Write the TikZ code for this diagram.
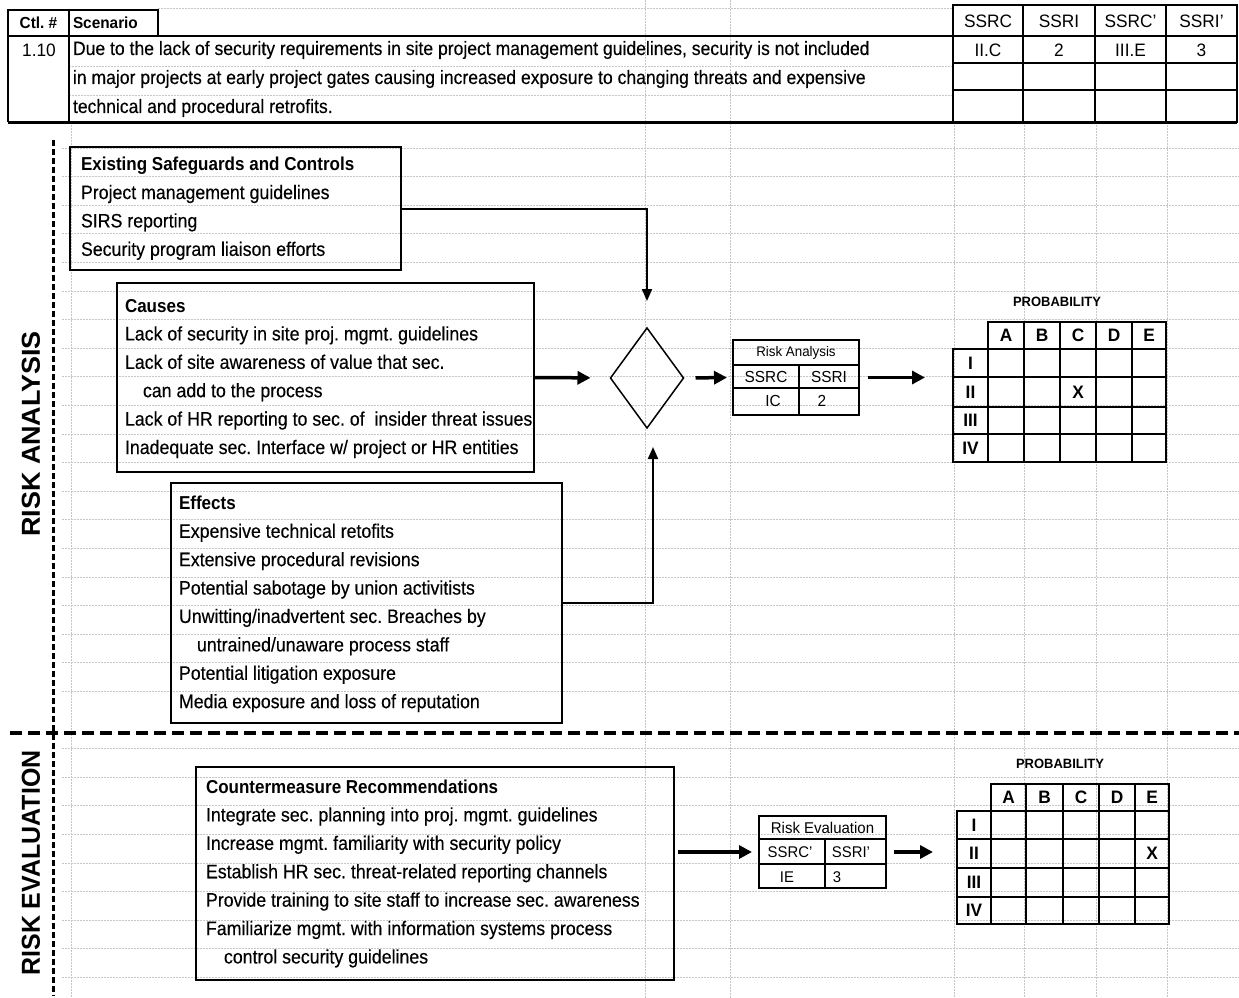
\documentclass[tikz,border=0pt]{standalone}
\usepackage{fontspec}
\usepackage{graphicx}
\setmainfont{Liberation Sans}[FakeStretch=0.96]
\newfontfamily\bodyfont{Liberation Sans}[FakeStretch=0.91,UprightFeatures={FakeBold=0.3}]
\usetikzlibrary{arrows.meta,shapes.geometric}

\newcommand\boxtitle[1]{{\fontsize{18.7}{28.4}\selectfont\bfseries #1}}
\newcommand\indentline{\hspace*{18pt}}

\begin{document}
\frenchspacing
\begin{tikzpicture}[x=1pt,y=-1pt,
  every node/.style={inner sep=0pt,outer sep=0pt},
  faint/.style={gray!45,line width=0.7pt,dash pattern=on 1.6pt off 1.4pt},
  rule/.style={line width=1.6pt},
  listframe/.style={draw,line width=1.6pt,anchor=north west},
  listtext/.style={anchor=west,align=left,
    font=\bodyfont\fontsize{19.5}{28.4}\selectfont},
  bigarrow/.style={line width=3.5pt,-{Triangle[length=13pt,width=13pt]}},
  linkarrow/.style={line width=2pt,-{Triangle[length=12pt,width=10pt]}},
  hdr/.style={font=\fontsize{16}{16}\selectfont\bfseries},
  scen/.style={anchor=west,font=\bodyfont\fontsize{19.3}{19.3}\selectfont},
  code/.style={font=\fontsize{18}{18}\selectfont},
  gridlab/.style={font=\fontsize{18}{18}\selectfont\bfseries},
  problab/.style={font=\fontsize{13.5}{13.5}\selectfont\bfseries},
  gridline/.style={line width=1.5pt},
  smallbox/.style={draw,line width=1.5pt},
  section/.style={rotate=90,font=\fontsize{26}{26}\selectfont\bfseries}
]
\useasboundingbox (0,0) rectangle (1239,998);

% ---------- faint background form grid ----------
\foreach \yy in {148,176.6,...,720} \draw[faint] (62,\yy) -- (1239,\yy);
\foreach \yy in {748.6,777.2,...,980} \draw[faint] (62,\yy) -- (1239,\yy);
\foreach \yy in {66,95} \draw[faint] (69,\yy) -- (953,\yy);
\draw[faint] (158,8) -- (953,8);
\foreach \xx in {645,730} \draw[faint] (\xx,0) -- (\xx,998);
\foreach \xx in {71,954,1024,1096,1167} \draw[faint] (\xx,122) -- (\xx,998);

% ---------- scenario header ----------
\draw[rule] (8,122) -- (8,10) -- (158,10) -- (158,36);
\draw[rule] (69,10) -- (69,122);
\draw[line width=2pt] (8,36) -- (1237,36);
\draw[line width=3pt] (8,122) -- (1237,122);
\draw[line width=1.8pt] (953,5) rectangle (1237,122);
\foreach \xx in {1023,1095,1166} \draw[line width=1.8pt] (\xx,5) -- (\xx,122);
\foreach \yy in {63,90} \draw[line width=1.8pt] (953,\yy) -- (1237,\yy);

\node[hdr] (ctlhead) at (38.5,23) {Ctl. \#};
\node[hdr,anchor=west] (scenhead) at (73,23) {Scenario};
\node[code] (ctlnum) at (39,50) {1.10};
\node[scen] (scen1) at (73,50) {Due to the lack of security requirements in site project management guidelines, security is not included};
\node[scen] (scen2) at (73,79) {in major projects at early project gates causing increased exposure to changing threats and expensive};
\node[scen] (scen3) at (73,108) {technical and procedural retrofits.};

\node[code] (h1) at (988,21) {SSRC};
\node[code] (h2) at (1059,21) {SSRI};
\node[code] (h3) at (1130.5,21) {SSRC'};
\node[code] (h4) at (1201.5,21) {SSRI'};
\node[code] (v1) at (988,50) {II.C};
\node[code] (v2) at (1059,50) {2};
\node[code] (v3) at (1130.5,50) {III.E};
\node[code] (v4) at (1201.5,50) {3};

% ---------- section markers ----------
\draw[line width=3pt,dash pattern=on 6pt off 3pt] (53,140) -- (53,996);
\draw[line width=4pt,dash pattern=on 12pt off 6pt] (10,733) -- (1239,733);
\node[section] (ranalysis) at (31,434) {\scalebox{1.08}[1]{RISK ANALYSIS}};
\node[section] (revaluation) at (31,863) {RISK EVALUATION};

% ---------- risk analysis ----------
\node[listframe,minimum width=331pt,minimum height=123pt] (safe) at (70,147) {};
\node[listtext] (safetext) at ([xshift=11pt]safe.west)
  {\boxtitle{Existing Safeguards and Controls}\\
   Project management guidelines\\
   SIRS reporting\\
   Security program liaison efforts};

\node[listframe,minimum width=417pt,minimum height=189pt] (causes) at (117,283) {};
\node[listtext] (causestext) at ([xshift=8pt,yshift=-1pt]causes.west)
  {\boxtitle{Causes}\\
   Lack of security in site proj. mgmt. guidelines\\
   Lack of site awareness of value that sec.\\
   \indentline can add to the process\\
   Lack of HR reporting to sec. of\ \ insider threat issues\\
   Inadequate sec. Interface w/ project or HR entities};

\node[listframe,minimum width=391pt,minimum height=240pt] (effects) at (171,483) {};
\node[listtext] (effectstext) at ([xshift=8pt,yshift=-1pt]effects.west)
  {\boxtitle{Effects}\\
   Expensive technical retofits\\
   Extensive procedural revisions\\
   Potential sabotage by union activitists\\
   Unwitting/inadvertent sec. Breaches by\\
   \indentline untrained/unaware process staff\\
   Potential litigation exposure\\
   Media exposure and loss of reputation};

\node[draw,diamond,line width=1.5pt,minimum width=73pt,minimum height=100pt] (decide) at (647,378) {};

\node[smallbox,minimum width=126pt,minimum height=75pt] (ra) at (796,377.5) {};
\draw[line width=1.3pt] (733,365) -- (859,365) (733,388) -- (859,388) (799,365) -- (799,415);
\node[font=\fontsize{13.9}{13.9}\selectfont] (ratitle) at (796,353) {Risk Analysis};
\node[font=\fontsize{16}{16}\selectfont] (rah1) at (766,377) {SSRC};
\node[font=\fontsize{16}{16}\selectfont] (rah2) at (829,377) {SSRI};
\node[font=\fontsize{16}{16}\selectfont] (rav1) at (773,401) {IC};
\node[font=\fontsize{16}{16}\selectfont] (rav2) at (822,401) {2};

% probability matrix (analysis)
\node[problab] (prob1) at (1057,302) {PROBABILITY};
\coordinate (g1) at (953,378);
\draw[gridline] (988,322) rectangle (1166,462);
\draw[gridline] (953,349) rectangle (988,462);
\foreach \yy in {377,407,434} \draw[gridline] (953,\yy) -- (1166,\yy);
\draw[gridline] (988,349) -- (1166,349);
\foreach \xx in {1024,1060,1096,1132} \draw[gridline] (\xx,322) -- (\xx,462);
\foreach \l/\xx in {A/1006,B/1042,C/1078,D/1114,E/1149}
  \node[gridlab] (g1col\l) at (\xx,335.5) {\l};
\foreach \l/\yy in {I/363,II/392,III/420.5,IV/448}
  \node[gridlab] (g1row\l) at (970.5,\yy) {\l};
\node[gridlab] (g1mark) at (1078,392) {X};

% connectors (analysis)
\draw[linkarrow,shorten >=27pt] (safe.east) -| (decide.north);
\draw[linkarrow,shorten >=19pt] (effects.east) -| ([xshift=6pt]decide.south);
\draw[bigarrow,shorten >=20pt] (causes.east) -- (decide.west);
\draw[bigarrow,shorten <=12pt,shorten >=6pt] (decide.east) -- (ra.west);
\draw[bigarrow,shorten <=9pt,shorten >=28pt] (ra.east) -- (ra.east -| g1);

% ---------- risk evaluation ----------
\node[listframe,minimum width=478pt,minimum height=213pt] (counter) at (196,767) {};
\node[listtext] (countertext) at ([xshift=10pt]counter.west)
  {\boxtitle{Countermeasure Recommendations}\\
   Integrate sec. planning into proj. mgmt. guidelines\\
   Increase mgmt. familiarity with security policy\\
   Establish HR sec. threat-related reporting channels\\
   Provide training to site staff to increase sec. awareness\\
   Familiarize mgmt. with information systems process\\
   \indentline control security guidelines};

\node[smallbox,minimum width=127pt,minimum height=72pt] (re) at (822.5,852) {};
\draw[line width=1.3pt] (759,839) -- (886,839) (759,864) -- (886,864) (825,839) -- (825,888);
\node[font=\fontsize{15.6}{15.6}\selectfont] (retitle) at (822.5,828) {Risk Evaluation};
\node[font=\fontsize{15.5}{15.5}\selectfont] (reh1) at (790,852) {SSRC'};
\node[font=\fontsize{15.5}{15.5}\selectfont] (reh2) at (851,852) {SSRI'};
\node[font=\fontsize{15.5}{15.5}\selectfont] (rev1) at (787,877) {IE};
\node[font=\fontsize{15.5}{15.5}\selectfont] (rev2) at (837,877) {3};

% probability matrix (evaluation)
\node[problab] (prob2) at (1060,764) {PROBABILITY};
\coordinate (g2) at (957,852);
\draw[gridline] (991,784) rectangle (1169,924);
\draw[gridline] (957,811) rectangle (991,924);
\foreach \yy in {839,868,897} \draw[gridline] (957,\yy) -- (1169,\yy);
\draw[gridline] (991,811) -- (1169,811);
\foreach \xx in {1026,1063,1099,1135} \draw[gridline] (\xx,784) -- (\xx,924);
\foreach \l/\xx in {A/1008.5,B/1044.5,C/1081,D/1117,E/1152}
  \node[gridlab] (g2col\l) at (\xx,797.5) {\l};
\foreach \l/\yy in {I/825,II/853.5,III/882.5,IV/910.5}
  \node[gridlab] (g2row\l) at (974,\yy) {\l};
\node[gridlab] (g2mark) at (1152,853.5) {X};

% connectors (evaluation)
\draw[bigarrow,shorten <=4pt,shorten >=7pt] (re.west -| counter.east) -- (re.west);
\draw[bigarrow,shorten <=8pt,shorten >=24pt] (re.east) -- (re.east -| g2);

\end{tikzpicture}
\end{document}
